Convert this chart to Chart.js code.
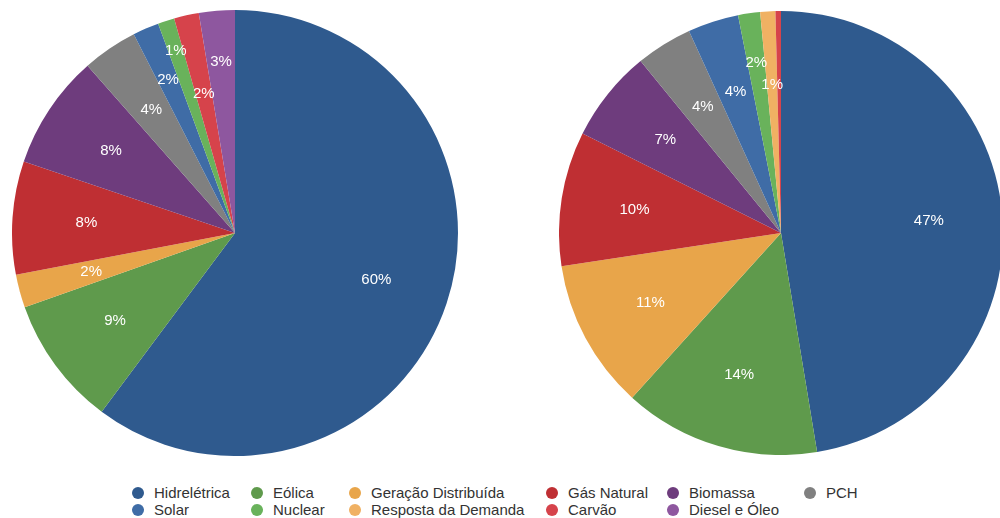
<!DOCTYPE html>
<html lang="pt-BR">
<head>
<meta charset="utf-8">
<title>Matriz elétrica</title>
<script src="https://cdn.jsdelivr.net/npm/chart.js@4.4.1/dist/chart.umd.min.js"></script>
<style>
  html, body { margin: 0; padding: 0; background: #fff; overflow: hidden; }
  body { width: 1000px; height: 518px; position: relative; font-family: "Liberation Sans", Arial, sans-serif; }
  .pie { position: absolute; }
  #pieLeft { left: 12px; top: 10px; width: 446px; height: 446px; }
  #pieRight { left: 559px; top: 11px; width: 444px; height: 444px; }
  #legend { position: absolute; left: 0; top: 484px; width: 1000px; height: 34px; }
  .col { position: absolute; top: 0; }
  .item { display: flex; align-items: center; height: 17px; font-size: 15px; color: #333; white-space: nowrap; }
  .dot { width: 12px; height: 12px; border-radius: 50%; margin-right: 10px; flex: none; }
</style>
</head>
<body>
<div class="pie" id="pieLeft"><canvas id="chartLeft"></canvas></div>
<div class="pie" id="pieRight"><canvas id="chartRight"></canvas></div>
<div id="legend"></div>

<script>
// fontes, na ordem das fatias (sentido horário a partir do topo)
const fontes = [
  "Hidrelétrica", "Eólica", "Geração Distribuída", "Gás Natural", "Biomassa", "PCH",
  "Solar", "Nuclear", "Resposta da Demanda", "Carvão", "Diesel e Óleo"
];
const cores = [
  "#2F5A8E", "#5F9A4C", "#E8A54A", "#BF2F33", "#6E3C7D", "#808080",
  "#3F6CA6", "#69B25B", "#F0B163", "#D6434B", "#8E579F"
];

// participação (%) em cada gráfico
const matrizAtual = [60.2, 9.4, 2.4, 8.2, 8.3, 4.0, 1.9, 1.2, 0, 1.8, 2.6];
const matrizFutura = [47.4, 14.3, 10.9, 9.8, 6.7, 4.1, 3.7, 1.6, 1.1, 0.4, 0];

// colunas da legenda (índices em fontes)
const colunasLegenda = [[0, 6], [1, 7], [2, 8], [3, 9], [4, 10], [5]];
const xColunas = [132, 251, 349, 546, 667, 804];

// rótulos de porcentagem dentro das fatias
const rotulosPct = {
  id: "rotulosPct",
  afterDatasetsDraw(chart, args, opts) {
    const ctx = chart.ctx;
    const ds = chart.data.datasets[0];
    const total = ds.data.reduce((a, b) => a + b, 0);
    const meta = chart.getDatasetMeta(0);
    ctx.save();
    ctx.fillStyle = "#fff";
    ctx.font = "15px 'Liberation Sans', Arial, sans-serif";
    ctx.textAlign = "center";
    ctx.textBaseline = "middle";
    meta.data.forEach((arc, i) => {
      const pct = Math.round(ds.data[i] / total * 100);
      if (pct < 1) return;
      const p = arc.getProps(["x", "y", "startAngle", "endAngle", "outerRadius"], true);
      const ang = (p.startAngle + p.endAngle) / 2;
      const f = (opts.raio && opts.raio[i]) || 0.668;
      const r = p.outerRadius * f;
      ctx.fillText(pct + "%", p.x + Math.cos(ang) * r, p.y + Math.sin(ang) * r);
    });
    ctx.restore();
  }
};

function criaPizza(id, valores, raio) {
  return new Chart(document.getElementById(id), {
    type: "pie",
    data: {
      labels: fontes,
      datasets: [{
        data: valores,
        backgroundColor: cores,
        borderWidth: 0,
        hoverOffset: 0
      }]
    },
    options: {
      responsive: true,
      maintainAspectRatio: false,
      animation: false,
      layout: { padding: 0 },
      plugins: {
        legend: { display: false },
        tooltip: { enabled: false },
        rotulosPct: { raio: raio }
      }
    },
    plugins: [rotulosPct]
  });
}

criaPizza("chartLeft", matrizAtual, { 6: 0.75, 7: 0.86, 9: 0.64, 10: 0.77 });
criaPizza("chartRight", matrizFutura, { 7: 0.775 });

// legenda em html
const legenda = document.getElementById("legend");
colunasLegenda.forEach((col, c) => {
  const div = document.createElement("div");
  div.className = "col";
  div.style.left = xColunas[c] + "px";
  col.forEach(i => {
    const item = document.createElement("div");
    item.className = "item";
    const dot = document.createElement("span");
    dot.className = "dot";
    dot.style.background = cores[i];
    item.appendChild(dot);
    item.appendChild(document.createTextNode(fontes[i]));
    div.appendChild(item);
  });
  legenda.appendChild(div);
});
</script>
</body>
</html>
